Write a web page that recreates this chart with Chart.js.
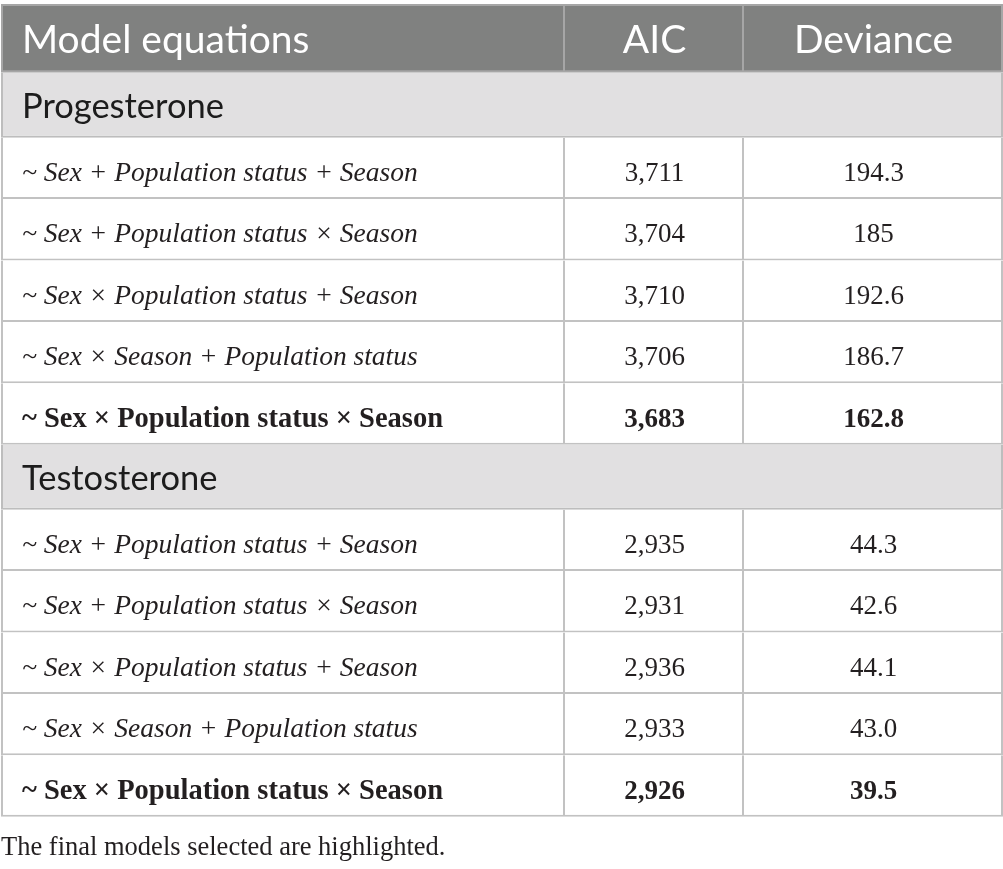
<!DOCTYPE html>
<html>
<head>
<meta charset="utf-8">
<script src="https://cdn.jsdelivr.net/npm/chart.js@4.4.1/dist/chart.umd.min.js"></script>
<style>
  html, body { margin: 0; padding: 0; background: #fff; }
  #wrap { width: 1003px; height: 869px; }
</style>
</head>
<body>
<div id="wrap"><canvas id="table" width="1003" height="869"></canvas></div>
<script>
// table content
const columns = ['Model equations', 'AIC', 'Deviance'];
const groups = ['Progesterone', 'Testosterone'];
const models = [
  '~ Sex + Population status + Season',
  '~ Sex + Population status × Season',
  '~ Sex × Population status + Season',
  '~ Sex × Season + Population status',
  '~ Sex × Population status × Season'
];
const progAIC = ['3,711', '3,704', '3,710', '3,706', '3,683'];
const progDeviance = ['194.3', '185', '192.6', '186.7', '162.8'];
const testAIC = ['2,935', '2,931', '2,936', '2,933', '2,926'];
const testDeviance = ['44.3', '42.6', '44.1', '43.0', '39.5'];
const selected = [false, false, false, false, true];
const footnote = 'The final models selected are highlighted.';

// layout (table units = pixels)
const colEdges = [1, 565, 744, 1003];
const tableTop = 4;
const headH = 68.7, groupH = 65, rowH = 61.4;

const sans = 'Lato';
const serif = '"Liberation Serif"';
const ink = '#231f20';

// walk the rows and collect the cells
let yPos = tableTop;
const headCells = [], groupCells = [], bodyCells = [];

columns.forEach((c, i) => {
  headCells.push({ x: [colEdges[i], colEdges[i + 1]], y: yPos + headH / 2,
    text: c, col: i, font: '39px ' + sans, color: '#fff', dy: 15 });
});
yPos += headH;

const blocks = [[progAIC, progDeviance], [testAIC, testDeviance]];
groups.forEach((g, gi) => {
  groupCells.push({ x: [colEdges[0], colEdges[3]], y: yPos + groupH / 2,
    text: g, col: 0, font: '34.5px ' + sans, color: '#1c1c1c', dy: 13 });
  yPos += groupH;
  models.forEach((m, r) => {
    const cy = yPos + rowH / 2;
    const bold = selected[r];
    const vals = [m, blocks[gi][0][r], blocks[gi][1][r]];
    vals.forEach((v, ci) => {
      let font;
      if (ci === 0) font = bold ? 'bold 28.5px ' + serif : 'italic 27.5px ' + serif;
      else font = bold ? 'bold 27px ' + serif : '27px ' + serif;
      bodyCells.push({ x: [colEdges[ci], colEdges[ci + 1]], y: cy,
        text: v, col: ci, font: font, color: ink, dy: 12.5 });
    });
    yPos += rowH;
  });
});

const cellText = {
  id: 'cellText',
  afterDatasetsDraw(chart) {
    const ctx = chart.ctx;
    ctx.save();
    ctx.textBaseline = 'alphabetic';
    chart.data.datasets.forEach((ds, di) => {
      chart.getDatasetMeta(di).data.forEach((bar, i) => {
        const cell = ds.data[i];
        const left = Math.min(bar.x, bar.base);
        const right = Math.max(bar.x, bar.base);
        ctx.font = cell.font;
        ctx.fillStyle = cell.color;
        if (cell.col === 0) {
          ctx.textAlign = 'left';
          ctx.fillText(cell.text, left + 21, bar.y + cell.dy);
        } else {
          ctx.textAlign = 'center';
          ctx.fillText(cell.text, (left + right) / 2, bar.y + cell.dy);
        }
      });
    });
    // note under the table
    ctx.textAlign = 'left';
    ctx.font = '26.5px ' + serif;
    ctx.fillStyle = ink;
    ctx.fillText(footnote, 1, yPos + 38);
    ctx.restore();
  }
};

function sides(first, ctx) {
  const c = ctx.raw;
  return { top: first ? 2 : 0, left: c.col === 0 ? 2 : 0, right: 2, bottom: 2 };
}

new Chart(document.getElementById('table'), {
  type: 'bar',
  data: {
    datasets: [
      {
        label: 'head', data: headCells, barThickness: headH,
        backgroundColor: '#808180', borderColor: '#a6a6a6',
        borderWidth: ctx => sides(true, ctx)
      },
      {
        label: 'groups', data: groupCells, barThickness: groupH,
        backgroundColor: '#e1e0e1', borderColor: '#bdbdbd',
        borderWidth: ctx => sides(false, ctx)
      },
      {
        label: 'rows', data: bodyCells, barThickness: rowH,
        backgroundColor: '#ffffff', borderColor: '#c2c2c2',
        borderWidth: ctx => sides(false, ctx)
      }
    ]
  },
  options: {
    indexAxis: 'y',
    responsive: false,
    animation: false,
    devicePixelRatio: 1,
    layout: { padding: 0 },
    datasets: { bar: { grouped: false, borderSkipped: false, inflateAmount: 0 } },
    plugins: { legend: { display: false }, tooltip: { enabled: false } },
    scales: {
      x: { type: 'linear', min: 0, max: 1003, offset: false, display: false },
      y: { type: 'linear', min: 0, max: 869, reverse: true, offset: false, display: false }
    }
  },
  plugins: [cellText]
});
</script>
</body>
</html>
